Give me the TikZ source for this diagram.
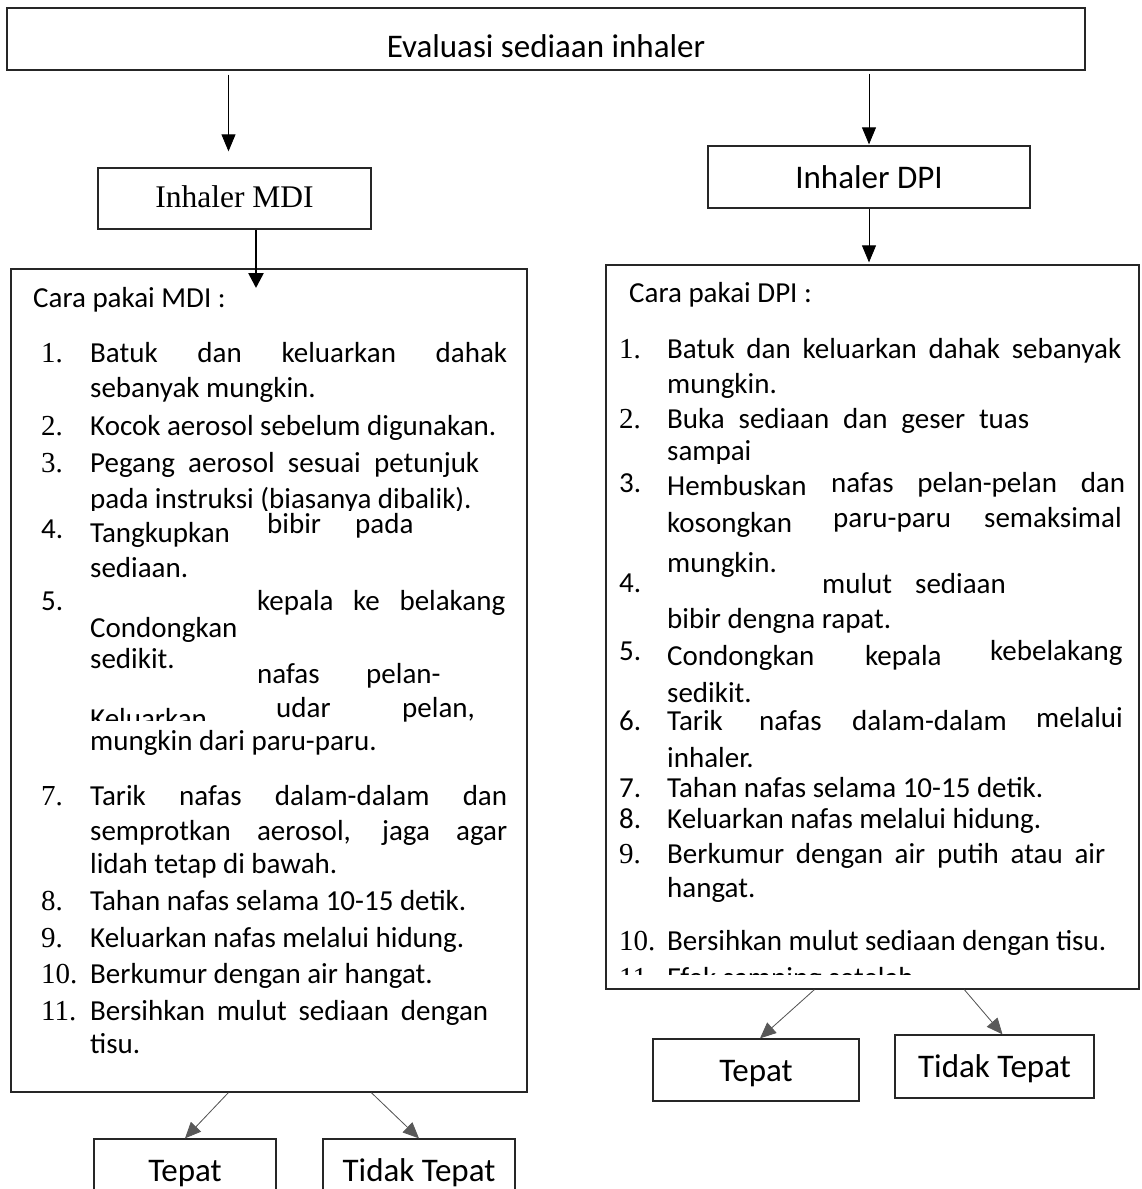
\documentclass[tikz,border=0pt]{standalone}
\usepackage{fontspec}
\newfontfamily\calib{Carlito}
\newfontfamily\tnr{Liberation Serif}
\usetikzlibrary{arrows.meta, positioning, calc}

\tikzset{
  box/.style={draw=black!85, line width=1.3pt, inner sep=0pt},
  lab/.style={box, font=\calib\fontsize{33}{38}\selectfont, text height=25pt, text depth=3pt},
  txt/.style={anchor=base west, inner sep=0pt, font=\calib\fontsize{29}{34}\selectfont},
  num/.style={anchor=base west, inner sep=0pt, font=\tnr\fontsize{29}{34}\selectfont},
  cut/.style={text depth=0pt},
  arr/.style={-{Triangle[length=17pt, width=14pt]}, line width=0.8pt},
  garr/.style={-{Triangle[length=16pt, width=14pt]}, line width=0.8pt, draw=black!65, fill=black},
}
\newcommand{\jus}[2]{\makebox[#1][s]{#2}}

\begin{document}
\begin{tikzpicture}[x=1pt, y=-1pt]
  \useasboundingbox (0,0) rectangle (1141,1189);

  % boxes
  \node[lab, minimum width=1078pt, minimum height=62pt, text height=36pt, text depth=0pt] (eval) at (546,39) {Evaluasi sediaan inhaler};
  \node[box, minimum width=273pt, minimum height=61pt, font=\tnr\fontsize{31.5}{36}\selectfont, text height=21pt, text depth=4pt] (mdi) at (234.5,198.5) {Inhaler MDI};
  \node[lab, minimum width=322pt, minimum height=62pt] (dpi) at (869,177) {Inhaler DPI};
  \node[box, minimum width=516pt, minimum height=823pt] (mdilist) at (269,680.5) {};
  \node[box, minimum width=533pt, minimum height=724pt] (dpilist) at (872.5,627) {};
  \node[lab, minimum width=182pt, minimum height=62pt] (tepatA) at (185,1170) {Tepat};
  \node[lab, minimum width=192pt, minimum height=62pt] (tidakA) at (419,1170) {Tidak Tepat};
  \node[lab, minimum width=206pt, minimum height=62pt] (tepatB) at (756,1070) {Tepat};
  \node[lab, minimum width=199pt, minimum height=63pt] (tidakB) at (994.5,1066.5) {Tidak Tepat};

  % arrows
  \coordinate (mdiin) at ([xshift=-6pt]mdi.north);
  \draw[arr, shorten <=4pt, shorten >=16pt] (eval.south -| mdiin) -- (mdiin);
  \draw[arr, shorten <=3pt, shorten >=1pt] (eval.south -| dpi.north) -- (dpi.north);
  \coordinate (mditip) at (256,288);
  \draw[-{Triangle[length=15pt, width=15pt]}, line width=2.6pt] (mdi.south -| mditip) -- (mditip);
  \draw[arr, shorten >=2pt] (dpi.south) -- (dpilist.north -| dpi.south);
  \draw[garr] ($(mdilist.south west)+(218,0)$) -- (tepatA.north);
  \draw[garr] ($(mdilist.south west)+(361,0)$) -- (tidakA.north);
  \draw[garr] ($(dpilist.south west)+(209,0)$) -- ([xshift=4pt]tepatB.north);
  \draw[garr] ($(dpilist.south west)+(359,0)$) -- ([xshift=8pt]tidakB.north);

  % Cara pakai MDI
  \node[txt] (mhead) at (33,307) {Cara pakai MDI :};
  \node[num] (m1) at (41,362) {1.};
  \node[txt] (m1a) at (90,362) {\jus{417pt}{Batuk dan keluarkan dahak}};
  \node[txt] (m1b) at (90,397) {sebanyak mungkin.};
  \node[num] (m2) at (41,435) {2.};
  \node[txt] (m2a) at (90,435) {Kocok aerosol sebelum digunakan.};
  \node[num] (m3) at (41,472) {3.};
  \node[txt] (m3a) at (90,472) {\jus{389pt}{Pegang aerosol sesuai petunjuk}};
  \begin{scope}
    \clip (60,480) rectangle (520,510);
    \node[txt, cut] (m3b) at (90,508) {pada instruksi (biasanya dibalik).};
  \end{scope}
  \node[txt] (m4) at (41,538) {4.};
  \node[txt] (m4a) at (90,542) {Tangkupkan};
  \node[txt] (m4b) at (267,533) {bibir};
  \node[txt] (m4c) at (355,533) {pada};
  \node[txt] (m4d) at (90,577) {sediaan.};
  \node[txt] (m5) at (41,610) {5.};
  \node[txt] (m5a) at (257,610) {\jus{248pt}{kepala ke belakang}};
  \node[txt] (m5b) at (90,637) {Condongkan};
  \node[txt] (m5c) at (90,668) {sedikit.};
  \node[txt] (m6a) at (257,683) {nafas};
  \node[txt] (m6b) at (366,683) {pelan-};
  \begin{scope}
    \clip (60,690) rectangle (520,720);
    \node[txt, cut] (m6c) at (90,728) {Keluarkan};
  \end{scope}
  \node[txt] (m6d) at (276,717) {udar};
  \node[txt] (m6e) at (402,717) {pelan,};
  \node[txt] (m6f) at (90,750) {mungkin dari paru-paru.};
  \node[num] (m7) at (41,805) {7.};
  \node[txt] (m7a) at (90,805) {\jus{417pt}{Tarik nafas dalam-dalam dan}};
  \node[txt] (m7b) at (90,840) {\jus{417pt}{semprotkan aerosol, jaga agar}};
  \node[txt] (m7c) at (90,873) {lidah tetap di bawah.};
  \node[num] (m8) at (41,910) {8.};
  \node[txt] (m8a) at (90,910) {Tahan nafas selama 10-15 detik.};
  \node[num] (m9) at (41,947) {9.};
  \node[txt] (m9a) at (90,947) {Keluarkan nafas melalui hidung.};
  \node[num] (m10) at (41,983) {10.};
  \node[txt] (m10a) at (90,983) {Berkumur dengan air hangat.};
  \node[num] (m11) at (41,1020) {11.};
  \node[txt] (m11a) at (90,1020) {\jus{398pt}{Bersihkan mulut sediaan dengan}};
  \node[txt] (m11b) at (90,1053) {tisu.};

  % Cara pakai DPI
  \node[txt] (dhead) at (629,302) {Cara pakai DPI :};
  \node[num] (d1) at (619,358) {1.};
  \node[txt] (d1a) at (667,358) {\jus{454pt}{Batuk dan keluarkan dahak sebanyak}};
  \node[txt] (d1b) at (667,393) {mungkin.};
  \node[num] (d2) at (619,428) {2.};
  \node[txt] (d2a) at (667,428) {\jus{362pt}{Buka sediaan dan geser tuas}};
  \begin{scope}
    \clip (640,435) rectangle (1130,463);
    \node[txt, cut] (d2b) at (667,460) {sampai};
  \end{scope}
  \node[txt] (d3) at (619,492) {3.};
  \node[txt] (d3a) at (667,495) {Hembuskan};
  \node[txt] (d3b) at (831,492) {\jus{294pt}{nafas pelan-pelan dan}};
  \node[txt] (d3c) at (667,532) {kosongkan};
  \node[txt] (d3d) at (833,527) {paru-paru};
  \node[txt] (d3e) at (984,527) {semaksimal};
  \node[txt] (d3f) at (667,572) {mungkin.};
  \node[txt] (d4) at (619,592) {4.};
  \node[txt] (d4a) at (822,593) {mulut};
  \node[txt] (d4b) at (915,593) {sediaan};
  \node[txt] (d4c) at (667,628) {bibir dengna rapat.};
  \node[txt] (d5) at (619,660) {5.};
  \node[txt] (d5a) at (667,665) {Condongkan};
  \node[txt] (d5b) at (865,665) {kepala};
  \node[txt] (d5c) at (990,660) {kebelakang};
  \node[txt] (d5d) at (667,702) {sedikit.};
  \node[txt] (d6) at (619,730) {6.};
  \node[txt] (d6a) at (667,730) {Tarik};
  \node[txt] (d6b) at (759,730) {nafas};
  \node[txt] (d6c) at (852,730) {dalam-dalam};
  \node[txt] (d6d) at (1036,727) {melalui};
  \node[txt] (d6e) at (667,767) {inhaler.};
  \node[txt] (d7) at (619,797) {7.};
  \node[txt] (d7a) at (667,797) {Tahan nafas selama 10-15 detik.};
  \node[txt] (d8) at (619,828) {8.};
  \node[txt] (d8a) at (667,828) {Keluarkan nafas melalui hidung.};
  \node[num] (d9) at (619,863) {9.};
  \node[txt] (d9a) at (667,863) {\jus{438pt}{Berkumur dengan air putih atau air}};
  \node[txt] (d9b) at (667,897) {hangat.};
  \node[num] (d10) at (619,950) {10.};
  \node[txt] (d10a) at (667,950) {Bersihkan mulut sediaan dengan tisu.};
  \begin{scope}
    \clip (610,960) rectangle (1130,974);
    \node[num, cut] (d11) at (619,987) {11.};
    \node[txt, cut] (d11a) at (667,987) {Efek samping setelah};
  \end{scope}
\end{tikzpicture}
\end{document}
